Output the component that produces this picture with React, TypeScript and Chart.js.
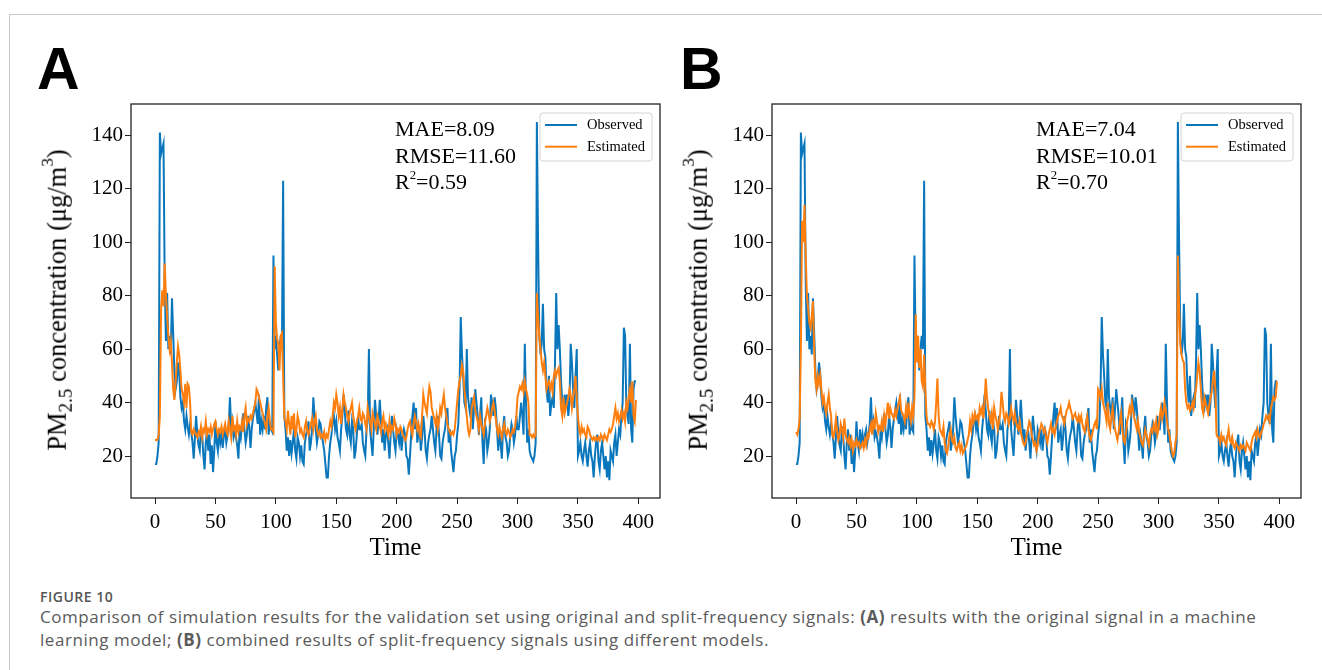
import React, { useEffect, useRef } from "react";
import { Chart, registerables } from "chart.js";

Chart.register(...registerables);

// ---------------- data ----------------
const OBSERVED = [
  17, 17, 20, 25, 141, 133, 135, 137, 85, 63,
  81, 60, 65, 58, 79, 66, 52, 45, 48, 55,
  51, 42, 38, 40, 33, 30, 35, 31, 28, 32,
  29, 25, 19, 27, 35, 28, 24, 22, 31, 28,
  20, 15, 25, 30, 22, 28, 17, 24, 14, 22,
  33, 25, 22, 30, 25, 28, 23, 28, 30, 25,
  28, 32, 42, 30, 33, 27, 29, 27, 24, 19,
  30, 27, 32, 36, 30, 25, 28, 35, 31, 23,
  30, 34, 37, 40, 36, 32, 43, 28, 33, 30,
  35, 30, 38, 42, 28, 32, 30, 29, 95, 60,
  65, 58, 52, 60, 65, 60, 123, 35, 30, 22,
  27, 20, 26, 21, 25, 30, 22, 19, 27, 25,
  20, 24, 18, 17, 25, 28, 30, 33, 22, 25,
  30, 42, 35, 30, 25, 28, 33, 32, 28, 25,
  22, 17, 12, 12, 20, 25, 28, 33, 35, 30,
  33, 27, 25, 22, 30, 35, 43, 37, 30, 28,
  37, 28, 25, 33, 30, 19, 22, 28, 35, 30,
  30, 32, 25, 22, 20, 30, 33, 60, 30, 25,
  20, 30, 41, 35, 28, 33, 41, 33, 25, 30,
  22, 28, 30, 25, 19, 28, 35, 30, 25, 22,
  30, 28, 25, 30, 22, 27, 30, 28, 20, 19,
  13, 20, 28, 35, 40, 30, 38, 25, 28, 30,
  22, 27, 35, 30, 22, 19, 25, 28, 30, 35,
  30, 25, 22, 30, 35, 28, 20, 19, 25, 28,
  30, 35, 38, 25, 30, 22, 18, 14, 20, 22,
  28, 32, 45, 72, 58, 50, 40, 38, 60, 42,
  38, 35, 42, 30, 38, 45, 40, 35, 28, 35,
  42, 25, 17, 32, 30, 22, 25, 30, 43, 40,
  35, 42, 38, 30, 22, 28, 25, 19, 30, 35,
  27, 25, 20, 22, 28, 32, 30, 25, 28, 35,
  30, 30, 35, 40, 35, 28, 62, 40, 25, 30,
  22, 20, 19, 18, 20, 25, 145, 100, 65, 58,
  62, 77, 60, 57, 45, 40, 50, 35, 40, 42,
  38, 55, 81, 60, 69, 60, 48, 40, 38, 43,
  38, 43, 35, 40, 62, 55, 45, 38, 50, 60,
  20, 22, 25, 20, 18, 22, 25, 20, 16, 22,
  25, 20, 18, 12, 20, 25, 28, 18, 15, 22,
  25, 20, 15, 20, 12, 18, 11, 22, 20, 18,
  25, 28, 20, 25, 30, 28, 35, 40, 68, 65,
  40, 35, 32, 62, 30, 25, 45, 48, 48,
];

const ESTIMATED_A = [
  26, 26, 26, 28, 35, 75, 82, 76, 92, 80,
  72, 65, 60, 63, 55, 45, 41, 48, 55, 61,
  58, 52, 45, 43, 40, 47, 38, 47, 46, 40,
  29, 28, 30, 29, 28, 27, 29, 28, 31, 27,
  30, 29, 33, 28, 30, 29, 31, 28, 30, 32,
  33, 30, 28, 30, 29, 31, 28, 30, 32, 29,
  28, 33, 30, 27, 35, 30, 31, 28, 33, 29,
  31, 30, 33, 29, 35, 38, 32, 34, 33, 35,
  34, 36, 38, 40, 45, 44, 42, 40, 38, 36,
  34, 32, 30, 35, 38, 33, 30, 30, 29, 91,
  70, 64, 62, 52, 65, 66, 50, 34, 33, 30,
  37, 32, 28, 35, 30, 36, 27, 30, 35, 33,
  29, 30, 28, 27, 31, 33, 29, 28, 30, 32,
  34, 30, 33, 35, 30, 28, 29, 27, 28, 27,
  29, 26, 28, 27, 30, 33, 31, 35, 40, 38,
  43, 40, 35, 38, 32, 37, 43, 40, 38, 35,
  33, 36, 38, 40, 35, 32, 30, 33, 35, 38,
  34, 33, 36, 35, 32, 30, 38, 35, 33, 30,
  36, 34, 32, 30, 35, 33, 31, 29, 33, 35,
  30, 32, 30, 28, 33, 29, 31, 30, 34, 32,
  28, 30, 29, 31, 30, 28, 27, 26, 27, 30,
  32, 33, 30, 28, 32, 35, 33, 30, 32, 28,
  27, 35, 43, 40, 38, 36, 42, 46, 44, 38,
  36, 34, 32, 35, 30, 33, 38, 36, 40, 43,
  38, 35, 32, 30, 29, 28, 29, 28, 30, 35,
  40, 45, 48, 50, 54, 52, 45, 40, 35, 30,
  28, 30, 38, 40, 42, 37, 35, 33, 30, 35,
  32, 30, 28, 32, 35, 38, 36, 33, 35, 38,
  40, 37, 34, 30, 28, 31, 29, 27, 30, 32,
  29, 28, 30, 29, 27, 28, 30, 29, 31, 35,
  42, 44, 46, 45, 47, 44, 48, 45, 43, 40,
  28, 28, 27, 28, 27, 28, 81, 72, 65, 60,
  55, 52, 55, 50, 45, 47, 48, 45, 47, 44,
  50, 52, 50, 52, 53, 48, 38, 35, 42, 36,
  38, 40, 42, 45, 43, 38, 42, 45, 50, 42,
  35, 30, 28, 31, 29, 30, 28, 27, 31, 30,
  28, 27, 26, 27, 26, 27, 26, 27, 26, 28,
  27, 26, 28, 27, 26, 28, 30, 29, 30, 32,
  35, 38, 34, 36, 33, 35, 37, 34, 36, 33,
  40, 38, 42, 45, 40, 48, 35, 33, 41,
];

const ESTIMATED_B = [
  29, 28, 30, 34, 60, 108, 100, 114, 95, 80,
  75, 70, 68, 72, 78, 60, 48, 45, 50, 47,
  50, 45, 40, 42, 38, 36, 40, 43, 38, 35,
  28, 27, 30, 34, 29, 26, 28, 32, 30, 27,
  34, 28, 26, 25, 27, 24, 26, 22, 25, 24,
  26, 24, 25, 23, 24, 25, 23, 26, 24, 28,
  27, 30, 32, 28, 34, 30, 36, 33, 29, 31,
  30, 33, 29, 35, 32, 36, 40, 34, 38, 36,
  35, 34, 37, 35, 38, 40, 42, 37, 36, 35,
  33, 38, 34, 40, 36, 33, 38, 35, 42, 73,
  55, 65, 53, 60, 48, 46, 58, 45, 35, 32,
  32, 31, 33, 32, 30, 33, 40, 49, 35, 30,
  29, 28, 31, 25, 22, 21, 24, 28, 30, 26,
  25, 27, 23, 22, 24, 25, 22, 24, 21, 22,
  23, 24, 26, 28, 33, 30, 35, 33, 36, 34,
  35, 33, 38, 36, 38, 34, 40, 49, 42, 38,
  35, 33, 36, 30, 38, 35, 33, 30, 33, 36,
  44, 40, 35, 33, 36, 35, 32, 34, 38, 35,
  33, 36, 33, 31, 30, 33, 29, 27, 25, 24,
  25, 28, 30, 33, 32, 28, 26, 24, 25, 22,
  24, 28, 30, 32, 31, 29, 30, 27, 25, 28,
  30, 32, 29, 30, 28, 31, 33, 35, 36, 38,
  35, 34, 32, 35, 37, 38, 40, 38, 36, 34,
  35, 36, 34, 33, 35, 33, 35, 32, 30, 29,
  33, 35, 30, 27, 26, 28, 30, 32, 33, 30,
  45, 44, 42, 45, 40, 38, 36, 33, 40, 32,
  30, 35, 38, 33, 30, 28, 26, 29, 33, 36,
  30, 26, 25, 28, 33, 35, 38, 36, 40, 37,
  34, 32, 30, 33, 29, 27, 25, 24, 27, 30,
  28, 26, 24, 28, 30, 29, 32, 30, 33, 28,
  30, 35, 38, 34, 36, 40, 37, 33, 30, 28,
  25, 22, 20, 21, 25, 28, 95, 75, 62, 58,
  56, 55, 45, 40, 38, 39, 37, 38, 40, 38,
  42, 45, 50, 55, 52, 45, 38, 36, 42, 40,
  38, 36, 39, 42, 44, 48, 52, 45, 28, 27,
  27, 25, 28, 26, 27, 25, 24, 27, 30, 26,
  25, 27, 24, 23, 25, 24, 23, 22, 24, 23,
  24, 23, 22, 25, 24, 23, 22, 25, 27, 28,
  29, 27, 30, 28, 27, 29, 30, 32, 33, 35,
  34, 35, 33, 38, 40, 42, 41, 42, 48,
];

const X_TICKS = [0, 50, 100, 150, 200, 250, 300, 350, 400];
const Y_TICKS = [20, 40, 60, 80, 100, 120, 140];
const SERIES_LABELS = ["Observed", "Estimated"];
const MAE_VALUES = ["8.09", "7.04"];
const RMSE_VALUES = ["11.60", "10.01"];
const R2_VALUES = ["0.59", "0.70"];
const PANEL_LETTERS = ["A", "B"];
const X_TITLE = "Time";

// ---------------- styles ----------------
const BLUE = "#0a77bd";
const ORANGE = "#ff7f0e";
const SERIF = "'Liberation Serif', 'Times New Roman', Times, serif";
const SANS = "'Liberation Sans', Arial, Helvetica, sans-serif";
const CAPTION_FONT = "'Open Sans', 'Noto Sans', sans-serif";

const CANVAS_W = 650;
const CANVAS_H = 480;
const CANVAS_TOP = 95;
const PANEL_OFFSET = 641;

const TIME = OBSERVED.map((_, i) => i);

const frameBox = {
  id: "frameBox",
  afterDatasetsDraw(chart: any) {
    const { ctx, chartArea: a } = chart;
    ctx.save();
    ctx.strokeStyle = "#222";
    ctx.lineWidth = 1.3;
    ctx.strokeRect(a.left, a.top, a.right - a.left, a.bottom - a.top);
    ctx.restore();
  },
};

const insideLegend = {
  id: "insideLegend",
  afterDatasetsDraw(chart: any) {
    const { ctx, chartArea: a } = chart;
    const w = 112;
    const h = 48;
    const x = a.right - 8 - w;
    const y = a.top + 9;
    ctx.save();
    ctx.beginPath();
    const r = 3;
    ctx.moveTo(x + r, y);
    ctx.lineTo(x + w - r, y);
    ctx.quadraticCurveTo(x + w, y, x + w, y + r);
    ctx.lineTo(x + w, y + h - r);
    ctx.quadraticCurveTo(x + w, y + h, x + w - r, y + h);
    ctx.lineTo(x + r, y + h);
    ctx.quadraticCurveTo(x, y + h, x, y + h - r);
    ctx.lineTo(x, y + r);
    ctx.quadraticCurveTo(x, y, x + r, y);
    ctx.closePath();
    ctx.fillStyle = "rgba(255,255,255,0.85)";
    ctx.fill();
    ctx.strokeStyle = "#d4d4d4";
    ctx.lineWidth = 1;
    ctx.stroke();
    chart.data.datasets.forEach((ds: any, i: number) => {
      const ly = y + 12 + i * 21.7;
      ctx.beginPath();
      ctx.strokeStyle = ds.borderColor;
      ctx.lineWidth = 2;
      ctx.moveTo(x + 5, ly);
      ctx.lineTo(x + 37, ly);
      ctx.stroke();
      ctx.fillStyle = "#000";
      ctx.font = `14.5px ${SERIF}`;
      ctx.textAlign = "left";
      ctx.textBaseline = "middle";
      ctx.fillText(ds.label, x + 47, ly + 0.5);
    });
    ctx.restore();
  },
};

function zeroPadding(s: any) {
  s.paddingTop = 0;
  s.paddingBottom = 0;
  s.paddingLeft = 0;
  s.paddingRight = 0;
}

function makeConfig(estimated: number[]): any {
  const all = [...OBSERVED, ...estimated];
  const yMinData = Math.min(...all);
  const yMaxData = Math.max(...all);
  const yPad = (yMaxData - yMinData) * 0.05;
  const xPad = (TIME[TIME.length - 1] - TIME[0]) * 0.05;
  const tickFont = { family: SERIF, size: 21 };
  const grid = {
    display: true,
    drawOnChartArea: false,
    drawTicks: true,
    tickLength: 6,
    color: "#222",
    lineWidth: 1,
  };
  return {
    type: "line",
    data: {
      labels: TIME,
      datasets: [
        {
          label: SERIES_LABELS[0],
          data: OBSERVED,
          borderColor: BLUE,
          backgroundColor: BLUE,
          borderWidth: 2,
          pointRadius: 0,
          tension: 0,
          order: 1,
        },
        {
          label: SERIES_LABELS[1],
          data: estimated,
          borderColor: ORANGE,
          backgroundColor: ORANGE,
          borderWidth: 2,
          pointRadius: 0,
          tension: 0,
          order: 0,
        },
      ],
    },
    options: {
      animation: false,
      responsive: false,
      maintainAspectRatio: false,
      devicePixelRatio: 1,
      layout: { padding: { top: 9, right: 10, left: 0, bottom: 0 } },
      plugins: {
        legend: { display: false },
        tooltip: { enabled: false },
      },
      scales: {
        x: {
          type: "linear",
          min: TIME[0] - xPad,
          max: TIME[TIME.length - 1] + xPad,
          afterBuildTicks: (s: any) => {
            s.ticks = X_TICKS.map((v) => ({ value: v }));
          },
          afterFit: (s: any) => {
            s.height = 77;
            zeroPadding(s);
          },
          grid,
          border: { display: false },
          ticks: {
            font: tickFont,
            color: "#000",
            padding: 6,
            autoSkip: false,
            maxRotation: 0,
          },
          title: {
            display: true,
            text: X_TITLE,
            font: { family: SERIF, size: 25 },
            color: "#000",
            padding: { top: 0, bottom: 12 },
          },
        },
        y: {
          type: "linear",
          position: "left",
          min: yMinData - yPad,
          max: yMaxData + yPad,
          afterBuildTicks: (s: any) => {
            s.ticks = Y_TICKS.map((v) => ({ value: v }));
          },
          afterFit: (s: any) => {
            s.width = 111;
            zeroPadding(s);
          },
          grid,
          border: { display: false },
          ticks: {
            font: tickFont,
            color: "#000",
            padding: 2,
          },
        },
      },
    },
    plugins: [frameBox, insideLegend],
  };
}

function PanelChart({ estimated, left }: { estimated: number[]; left: number }) {
  const ref = useRef<HTMLCanvasElement>(null);
  useEffect(() => {
    const chart = new Chart(ref.current as HTMLCanvasElement, makeConfig(estimated));
    return () => chart.destroy();
  }, [estimated]);
  return (
    <canvas
      ref={ref}
      width={CANVAS_W}
      height={CANVAS_H}
      style={{ position: "absolute", left, top: CANVAS_TOP, width: CANVAS_W, height: CANVAS_H }}
    />
  );
}

function Panel({ index, estimated }: { index: number; estimated: number[] }) {
  const dx = index * PANEL_OFFSET;
  const supStyle: React.CSSProperties = {
    fontSize: "0.58em",
    position: "relative",
    top: "-10px",
    verticalAlign: "baseline",
    lineHeight: 0,
  };
  return (
    <>
      <div
        style={{
          position: "absolute",
          left: 37 + dx + (index === 1 ? 2 : 0),
          top: 40,
          fontFamily: SANS,
          fontWeight: 700,
          fontSize: 59,
          lineHeight: "59px",
          color: "#000",
        }}
      >
        {PANEL_LETTERS[index]}
      </div>
      <PanelChart estimated={estimated} left={20 + dx} />
      <div
        style={{
          position: "absolute",
          left: 57 + dx,
          top: 300,
          transform: "translate(-50%, -50%) rotate(-90deg)",
          fontFamily: SERIF,
          fontSize: 26.5,
          lineHeight: 1,
          whiteSpace: "nowrap",
          color: "#000",
        }}
      >
        PM
        <span style={{ fontSize: "0.72em", position: "relative", top: "0.3em", lineHeight: 0 }}>2.5</span>
        {" concentration (μg/m"}
        <span style={{ fontSize: "0.65em", position: "relative", top: "-0.75em", lineHeight: 0 }}>3</span>
        {")"}
      </div>
      <div
        style={{
          position: "absolute",
          left: 395 + dx,
          top: 116,
          fontFamily: SERIF,
          fontSize: 22,
          lineHeight: "26.7px",
          color: "#000",
          whiteSpace: "nowrap",
        }}
      >
        <div>MAE={MAE_VALUES[index]}</div>
        <div>RMSE={RMSE_VALUES[index]}</div>
        <div>
          R<span style={supStyle}>2</span>={R2_VALUES[index]}
        </div>
      </div>
    </>
  );
}

export default function App() {
  return (
    <div
      style={{
        position: "absolute",
        left: 0,
        top: 0,
        width: 1322,
        height: 670,
        background: "#fff",
        overflow: "hidden",
      }}
    >
      <div
        style={{
          position: "absolute",
          left: 9,
          top: 14,
          width: 1313,
          height: 656,
          borderTop: "1px solid #c8c8c8",
          borderLeft: "1px solid #c8c8c8",
          boxSizing: "border-box",
        }}
      />
      <Panel index={0} estimated={ESTIMATED_A} />
      <Panel index={1} estimated={ESTIMATED_B} />
      <div
        style={{
          position: "absolute",
          left: 40,
          top: 589,
          fontFamily: CAPTION_FONT,
          fontSize: 14,
          fontWeight: 600,
          letterSpacing: "0.5px",
          color: "#555",
          lineHeight: "16px",
          whiteSpace: "nowrap",
        }}
      >
        FIGURE 10
      </div>
      <div
        style={{
          position: "absolute",
          left: 40,
          top: 605,
          fontFamily: CAPTION_FONT,
          fontSize: 17,
          letterSpacing: "0.55px",
          color: "#5a5a5a",
          lineHeight: "23px",
          whiteSpace: "nowrap",
        }}
      >
        Comparison of simulation results for the validation set using original and split-frequency signals: <b>(A)</b> results with the original signal in a machine
        <br />
        learning model; <b>(B)</b> combined results of split-frequency signals using different models.
      </div>
    </div>
  );
}
